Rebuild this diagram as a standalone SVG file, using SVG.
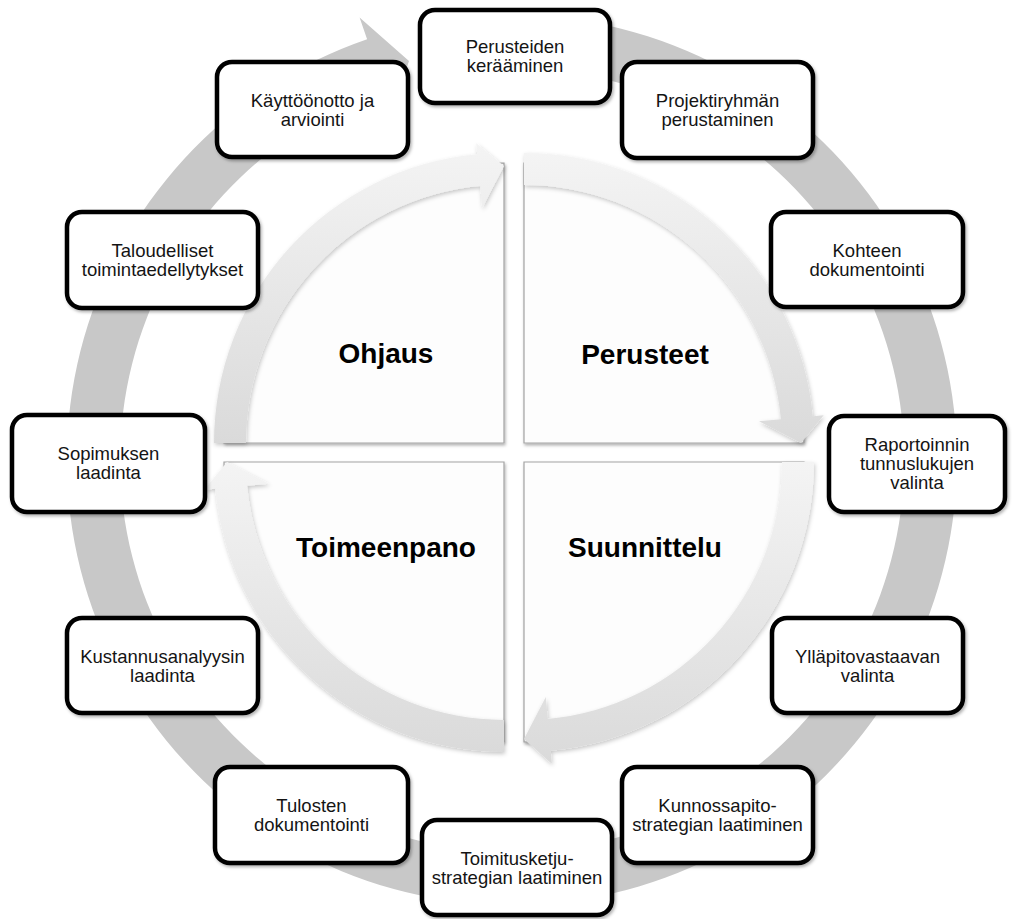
<svg xmlns="http://www.w3.org/2000/svg" width="1013" height="919" viewBox="0 0 1013 919">
  <defs>
    <style>
      .step rect { fill: #ffffff; stroke: #000000; stroke-width: 4.5; filter: url(#boxShadow); }
      .step text { font-family: "Liberation Sans", Arial, sans-serif; font-size: 18.5px; fill: #141414; text-anchor: middle; }
      .panel { fill: #fdfdfd; stroke: #a3a3a3; stroke-width: 1.2; filter: url(#panelShadow); }
      .band { fill: url(#bandGrad); filter: url(#bandShadow); }
      .phase-label { font-family: "Liberation Sans", Arial, sans-serif; font-size: 28px; font-weight: bold; fill: #000000; text-anchor: middle; }
      .ring { fill: #c8c8c8; }
    </style>
    <linearGradient id="bandGrad" x1="0" y1="0" x2="0" y2="1">
      <stop offset="0" stop-color="#f4f4f4"/>
      <stop offset="1" stop-color="#dadada"/>
    </linearGradient>
    <filter id="boxShadow" x="-10%" y="-10%" width="125%" height="130%">
      <feDropShadow dx="1.5" dy="2" stdDeviation="1.5" flood-color="#000" flood-opacity="0.3"/>
    </filter>
    <filter id="panelShadow" x="-5%" y="-5%" width="115%" height="115%">
      <feDropShadow dx="1" dy="2" stdDeviation="1.5" flood-color="#000" flood-opacity="0.3"/>
    </filter>
    <filter id="bandShadow" x="-10%" y="-10%" width="125%" height="125%">
      <feDropShadow dx="1" dy="2" stdDeviation="2" flood-color="#000" flood-opacity="0.22"/>
    </filter>
  </defs>

  <rect width="1013" height="919" fill="#ffffff"/>

  <!-- outer cycle arrow, clockwise, head at the top -->
  <g id="connectors">
    <path class="ring" d="M512,15 A445,445 0 1 1 367.1,39.2 L359.6,17.5 L409,61 L391.9,111.1 L384.4,89.4 A392,392 0 1 0 512,68 Z"/>
  </g>

  <!-- four phase quadrants, each with its curved arrow -->
  <g id="phase-ohjaus">
    <path class="panel" d="M504,443 L224,443 A280,280 0 0 1 504,163 Z"/>
    <path class="band" d="M214,443 A290,290 0 0 1 477.2,154.2 L476.2,143.3 L504,166 L482.2,208 L480.2,186.1 A258,258 0 0 0 246,443 Z"/>
    <text class="phase-label" x="386" y="363">Ohjaus</text>
  </g>
  <g id="phase-perusteet">
    <path class="panel" d="M524,443 L524,163 A280,280 0 0 1 804,443 Z"/>
    <path class="band" d="M524,153 A290,290 0 0 1 812.8,416.2 L823.7,415.2 L801,443 L759,421.2 L780.9,419.2 A258,258 0 0 0 524,185 Z"/>
    <text class="phase-label" x="645" y="364">Perusteet</text>
  </g>
  <g id="phase-suunnittelu">
    <path class="panel" d="M524,462 L804,462 A280,280 0 0 1 524,742 Z"/>
    <path class="band" d="M814,462 A290,290 0 0 1 550.8,750.8 L551.8,763.7 L524,739 L545.8,697 L547.8,718.9 A258,258 0 0 0 782,462 Z"/>
    <text class="phase-label" x="645" y="557">Suunnittelu</text>
  </g>
  <g id="phase-toimeenpano">
    <path class="panel" d="M504,462 L504,742 A280,280 0 0 1 224,462 Z"/>
    <path class="band" d="M504,752 A290,290 0 0 1 215.2,488.8 L204.3,489.8 L227,462 L269,483.8 L247.1,485.8 A258,258 0 0 0 504,720 Z"/>
    <text class="phase-label" x="386" y="557">Toimeenpano</text>
  </g>

  <!-- step boxes around the cycle -->
  <g id="step-perusteiden-keraaminen" class="step">
    <rect x="420" y="10" width="190" height="93" rx="15"/>
    <text x="515" y="53">Perusteiden</text>
    <text x="515" y="72">kerääminen</text>
  </g>
  <g id="step-projektiryhma" class="step">
    <rect x="622" y="62" width="191" height="96" rx="15"/>
    <text x="717.5" y="107">Projektiryhmän</text>
    <text x="717.5" y="126">perustaminen</text>
  </g>
  <g id="step-kohteen-dokumentointi" class="step">
    <rect x="771" y="212" width="192" height="95" rx="15"/>
    <text x="867" y="257">Kohteen</text>
    <text x="867" y="276">dokumentointi</text>
  </g>
  <g id="step-raportointi" class="step">
    <rect x="829" y="416" width="176" height="96" rx="15"/>
    <text x="917" y="451">Raportoinnin</text>
    <text x="917" y="470">tunnuslukujen</text>
    <text x="917" y="489">valinta</text>
  </g>
  <g id="step-yllapitovastaava" class="step">
    <rect x="772" y="618" width="191" height="95" rx="15"/>
    <text x="867.5" y="663">Ylläpitovastaavan</text>
    <text x="867.5" y="682">valinta</text>
  </g>
  <g id="step-kunnossapitostrategia" class="step">
    <rect x="622" y="767" width="191" height="96" rx="15"/>
    <text x="717.5" y="812">Kunnossapito-</text>
    <text x="717.5" y="831">strategian laatiminen</text>
  </g>
  <g id="step-toimitusketjustrategia" class="step">
    <rect x="422" y="820" width="190" height="95" rx="15"/>
    <text x="517" y="865">Toimitusketju-</text>
    <text x="517" y="884">strategian laatiminen</text>
  </g>
  <g id="step-tulosten-dokumentointi" class="step">
    <rect x="215" y="767" width="193" height="96" rx="15"/>
    <text x="311.5" y="812">Tulosten</text>
    <text x="311.5" y="831">dokumentointi</text>
  </g>
  <g id="step-kustannusanalyysi" class="step">
    <rect x="67" y="618" width="191" height="95" rx="15"/>
    <text x="162.5" y="663">Kustannusanalyysin</text>
    <text x="162.5" y="682">laadinta</text>
  </g>
  <g id="step-sopimus" class="step">
    <rect x="12" y="415" width="193" height="97" rx="15"/>
    <text x="108.5" y="460">Sopimuksen</text>
    <text x="108.5" y="479">laadinta</text>
  </g>
  <g id="step-taloudelliset" class="step">
    <rect x="67" y="212" width="191" height="96" rx="15"/>
    <text x="162.5" y="257">Taloudelliset</text>
    <text x="162.5" y="276">toimintaedellytykset</text>
  </g>
  <g id="step-kayttoonotto" class="step">
    <rect x="217" y="62" width="191" height="95" rx="15"/>
    <text x="312.5" y="107">Käyttöönotto ja</text>
    <text x="312.5" y="126">arviointi</text>
  </g>
</svg>
